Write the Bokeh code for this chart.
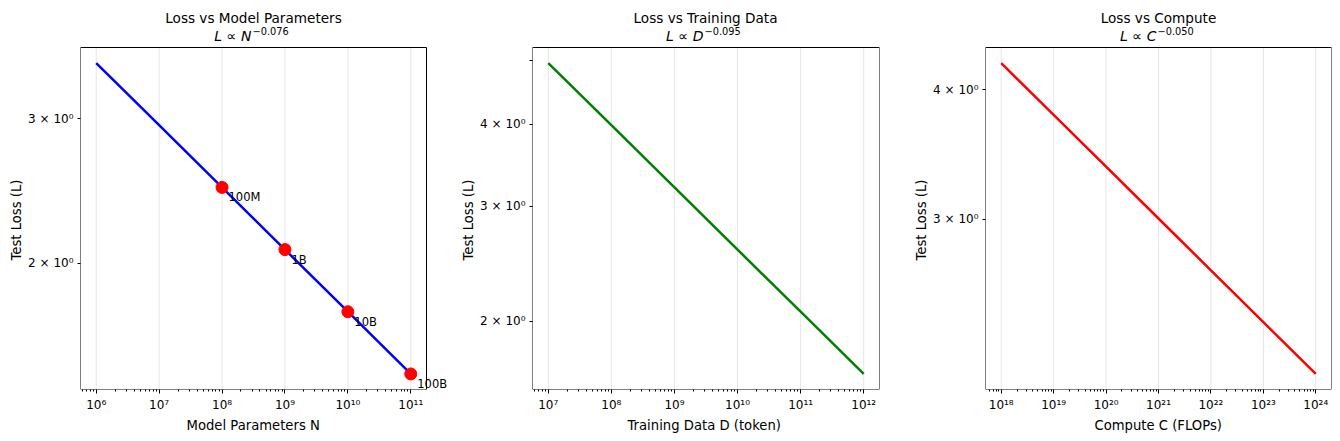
import math
from bokeh.plotting import figure
from bokeh.layouts import row
from bokeh.models import (Range1d, FixedTicker, Label, LabelSet, ColumnDataSource,
                          BoxAnnotation, Title)
from bokeh.core.properties import value
from bokeh.embed import file_html
from bokeh.resources import INLINE

FONT = "DejaVu Sans"

# panel 1: loss vs model parameters
params_n = [1e6, 1e7, 1e8, 1e9, 1e10, 1e11]
loss_n = [3.510, 2.947, 2.474, 2.077, 1.744, 1.464]
marked_n = [1e8, 1e9, 1e10, 1e11]
marked_loss = [2.474, 2.077, 1.744, 1.464]
marked_text = ["100M", "1B", "10B", "100B"]
xticks_n = [1e6, 1e7, 1e8, 1e9, 1e10, 1e11]
xlabels_n = ["10⁶", "10⁷", "10⁸", "10⁹", "10¹⁰", "10¹¹"]
yticks_n = [2, 3]
ylabels_n = ["2 × 10⁰", "3 × 10⁰"]

# panel 2: loss vs training data
data_d = [1e7, 1e8, 1e9, 1e10, 1e11, 1e12]
loss_d = [4.962, 3.987, 3.204, 2.574, 2.069, 1.662]
xticks_d = [1e7, 1e8, 1e9, 1e10, 1e11, 1e12]
xlabels_d = ["10⁷", "10⁸", "10⁹", "10¹⁰", "10¹¹", "10¹²"]
yticks_d = [2, 3, 4, 5]
ylabels_d = ["2 × 10⁰", "3 × 10⁰", "4 × 10⁰", ""]

# panel 3: loss vs compute
compute_c = [1e18, 1e19, 1e20, 1e21, 1e22, 1e23, 1e24]
loss_c = [4.246, 3.784, 3.373, 3.006, 2.679, 2.388, 2.128]
xticks_c = [1e18, 1e19, 1e20, 1e21, 1e22, 1e23, 1e24]
xlabels_c = ["10¹⁸", "10¹⁹", "10²⁰", "10²¹", "10²²", "10²³", "10²⁴"]
yticks_c = [3, 4]
ylabels_c = ["3 × 10⁰", "4 × 10⁰"]

BOX_W, BOX_H, TOP = 346, 342, 47   # axes box size and title space above it
AXIS_FS = 13.2

# rough DejaVu Sans advance widths (em), to centre the axis titles by hand
ADV = {" ": .318, "(": .390, ")": .390, "C": .698, "D": .770, "F": .575, "L": .557,
       "M": .863, "N": .748, "O": .787, "P": .603, "T": .611, "a": .613, "d": .635,
       "e": .615, "g": .635, "i": .278, "k": .579, "l": .278, "m": .974, "n": .634,
       "o": .612, "p": .635, "r": .411, "s": .521, "t": .392, "u": .634}


def text_width(s, size):
    return sum(ADV.get(ch, .6) for ch in s) * size


def log_pad(vals, frac=0.05):
    lo, hi = math.log10(min(vals)), math.log10(max(vals))
    d = (hi - lo) * frac
    return lo - d, hi + d


def panel(xs, ys, color, xticks, xlabels, yticks, ylabels, xtitle, title, var, expo,
          width, left, right, extra_right=0):
    # the frame also covers the title strip (and some room on the right),
    # so that all the texts can live inside it as labels
    lx0, lx1 = log_pad(xs)
    ly0, ly1 = log_pad(ys)
    x_end = 10 ** (lx1 + (lx1 - lx0) * extra_right / BOX_W)
    y_end = 10 ** (ly1 + (ly1 - ly0) * TOP / BOX_H)
    x0, x1, y0, y1 = 10 ** lx0, 10 ** lx1, 10 ** ly0, 10 ** ly1
    p = figure(width=width, height=441, x_axis_type="log", y_axis_type="log",
               x_range=Range1d(x0, x_end), y_range=Range1d(y0, y_end),
               output_backend="svg", toolbar_location=None,
               min_border_left=left, min_border_right=right,
               min_border_top=0, min_border_bottom=52)
    p.outline_line_color = None
    p.xgrid.visible = False
    p.ygrid.visible = False

    minor = []
    for k in range(int(math.floor(lx0)), int(math.ceil(lx1)) + 1):
        for m in range(2, 10):
            v = m * 10 ** k
            if x0 <= v <= x1:
                minor.append(v)
    p.xaxis.ticker = FixedTicker(ticks=xticks, minor_ticks=minor)
    p.xaxis.major_label_overrides = dict(zip(xticks, xlabels))
    p.yaxis.ticker = FixedTicker(ticks=yticks, minor_ticks=[])
    p.yaxis.major_label_overrides = dict(zip(yticks, ylabels))

    for ax in (p.xaxis[0], p.yaxis[0]):
        ax.axis_line_color = None
        ax.major_tick_line_color = "black"
        ax.minor_tick_line_color = "black"
        ax.major_tick_in = 0
        ax.minor_tick_in = 0
        ax.major_label_text_font = FONT
        ax.major_label_text_font_size = "12px"
        ax.major_label_text_color = "black"
    p.xaxis.major_tick_out = 4
    p.xaxis.minor_tick_out = 2
    p.xaxis.major_label_standoff = 4
    p.yaxis.major_tick_out = 3
    p.yaxis.major_label_standoff = 4

    # axis titles, centred on the box rather than on the (larger) frame
    ylab = "Test Loss (L)"
    p.add_layout(Title(text=ylab, align="left",
                       offset=round(BOX_H / 2 - text_width(ylab, AXIS_FS) / 2),
                       standoff=4, text_font=FONT, text_font_size=f"{AXIS_FS}px",
                       text_font_style="normal", text_color="black"), "left")
    p.add_layout(Title(text=xtitle, align="left",
                       offset=round(BOX_W / 2 - text_width(xtitle, AXIS_FS) / 2),
                       standoff=2, text_font=FONT, text_font_size=f"{AXIS_FS}px",
                       text_font_style="normal", text_color="black"), "below")

    # vertical grid lines at the decades
    p.segment(x0=xticks, y0=[y0] * len(xticks), x1=xticks, y1=[y1] * len(xticks),
              line_color="#e6e6e6", line_width=1)
    p.line(xs, ys, color=color, line_width=2.5)
    p.add_layout(BoxAnnotation(left=x0, right=x1, bottom=y0, top=y1,
                               fill_color=None, line_color="black", line_width=1,
                               line_alpha=1))

    fh = BOX_H + TOP
    p.add_layout(Label(x=BOX_W / 2, y=fh - 17.5, x_units="screen", y_units="screen",
                       text=title, text_align="center", text_baseline="alphabetic",
                       text_font=FONT, text_font_size="13.6px", text_color="black"))
    p.add_layout(Label(x=BOX_W / 2 - 2, y=fh - 35, x_units="screen", y_units="screen",
                       text="L ∝ " + var, text_align="right",
                       text_baseline="alphabetic", text_font=FONT,
                       text_font_style="italic", text_font_size="14px",
                       text_color="black"))
    p.add_layout(Label(x=BOX_W / 2 - 1, y=fh - 30.5, x_units="screen", y_units="screen",
                       text=expo, text_align="left", text_baseline="alphabetic",
                       text_font=FONT, text_font_size="9.8px", text_color="black"))
    return p


p1 = panel(params_n, loss_n, "#0000ff", xticks_n, xlabels_n, yticks_n, ylabels_n,
           "Model Parameters N", "Loss vs Model Parameters", "N", "\u22120.076",
           450, 80, 0, extra_right=24)
p1.scatter(marked_n, marked_loss, size=12, color="#ff0000")
src = ColumnDataSource(dict(x=marked_n, y=marked_loss, t=marked_text))
p1.add_layout(LabelSet(x="x", y="y", text="t", source=src, x_offset=6.5, y_offset=-10,
                       text_baseline="middle", text_font=value(FONT),
                       text_font_size="11.5px", text_color="black"))

p2 = panel(data_d, loss_d, "#008000", xticks_d, xlabels_d, yticks_d, ylabels_d,
           "Training Data D (token)", "Loss vs Training Data", "D", "\u22120.095",
           450, 82, 21)

p3 = panel(compute_c, loss_c, "#ff0000", xticks_c, xlabels_c, yticks_c, ylabels_c,
           "Compute C (FLOPs)", "Loss vs Compute", "C", "\u22120.050",
           439, 85, 8)

layout = row(p1, p2, p3)
open("out.html", "w").write(file_html(layout, INLINE))
